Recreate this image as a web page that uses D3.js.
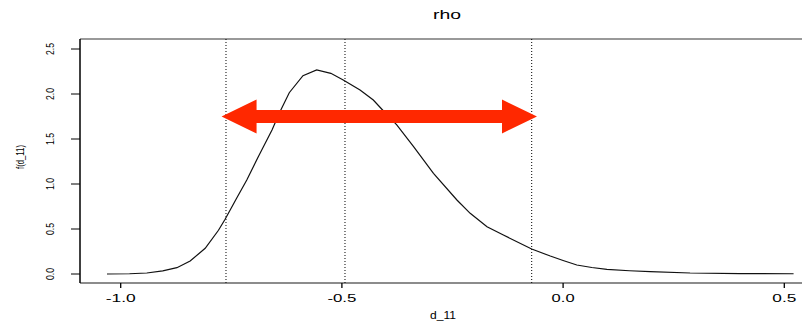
<!DOCTYPE html>
<html><head><meta charset="utf-8">
<script src="https://cdn.jsdelivr.net/npm/d3@7"></script>
<style>body{margin:0;background:#fff}svg{display:block}text{font-family:"Liberation Sans",Arial,sans-serif;fill:#000}</style>
</head><body><svg id="c" width="802" height="321"></svg>
<script>
const densityX = [-1.031,-0.980,-0.941,-0.905,-0.873,-0.843,-0.809,-0.779,-0.764,-0.738,-0.715,-0.689,-0.658,-0.640,-0.619,-0.588,-0.557,-0.525,-0.497,-0.459,-0.429,-0.406,-0.376,-0.338,-0.293,-0.240,-0.210,-0.172,-0.135,-0.071,-0.029,0.000,0.031,0.065,0.099,0.150,0.197,0.287,0.400,0.521];
const densityY = [0.000,0.003,0.011,0.035,0.070,0.144,0.286,0.486,0.608,0.841,1.044,1.303,1.600,1.803,2.014,2.203,2.267,2.230,2.156,2.044,1.933,1.811,1.656,1.415,1.119,0.822,0.674,0.526,0.433,0.278,0.200,0.150,0.100,0.072,0.052,0.036,0.026,0.011,0.005,0.003];
const vlines = [-0.762,-0.493,-0.071];
const xTicks = [-1.0,-0.5,0.0,0.5];
const xTickLabels = ["-1.0","-0.5","0.0","0.5"];
const yTicks = [0.0,0.5,1.0,1.5,2.0,2.5];
const yTickLabels = ["0.0","0.5","1.0","1.5","2.0","2.5"];
const arrowFrom = -0.772, arrowTo = -0.059, arrowY = 1.75;
const title = "rho", xLabel = "d_11", yLabel = "f(d_11)";

const svg = d3.select("#c");
const x = d3.scaleLinear().domain([-1, 0.5]).range([120.7, 784.3]);
const y = d3.scaleLinear().domain([0, 2.5]).range([274, 49]);
const L = 80, T = 39, B = 283, R = 815;

// box
svg.append("line").attr("x1",L).attr("x2",R).attr("y1",T).attr("y2",T).attr("stroke","#777").attr("stroke-width",1.3);
svg.append("line").attr("x1",L).attr("x2",R).attr("y1",B).attr("y2",B).attr("stroke","#666").attr("stroke-width",1.5);
svg.append("line").attr("x1",L).attr("x2",L).attr("y1",T).attr("y2",B).attr("stroke","#000").attr("stroke-width",1.5);

// dotted verticals
svg.selectAll("line.v").data(vlines).enter().append("line")
  .attr("x1",d=>x(d)).attr("x2",d=>x(d)).attr("y1",T).attr("y2",B)
  .attr("stroke","#000").attr("stroke-width",1).attr("stroke-dasharray","1,2");

// curve
const pts = densityX.map((d,i)=>[d,densityY[i]]);
svg.append("path").datum(pts)
  .attr("d", d3.line().x(d=>x(d[0])).y(d=>y(d[1])))
  .attr("fill","none").attr("stroke","#111").attr("stroke-width",1.2);

// arrow
const ax1 = x(arrowFrom), ax2 = x(arrowTo), ay = y(arrowY);
const hl = 35, hh = 17, sh = 6.5;
const poly = [[ax1,ay],[ax1+hl,ay-hh],[ax1+hl,ay-sh],[ax2-hl,ay-sh],[ax2-hl,ay-hh],[ax2,ay],[ax2-hl,ay+hh],[ax2-hl,ay+sh],[ax1+hl,ay+sh],[ax1+hl,ay+hh]];
svg.append("polygon").attr("points", poly.map(p=>p.join(",")).join(" ")).attr("fill","#ff2800");

// x axis ticks
const gx = svg.append("g");
gx.selectAll("line").data(xTicks).enter().append("line")
  .attr("x1",d=>x(d)).attr("x2",d=>x(d)).attr("y1",B).attr("y2",B+5).attr("stroke","#000").attr("stroke-width",1.3);
const xw = {"-1.0":30,"-0.5":29,"0.0":23,"0.5":24};
gx.selectAll("text").data(xTicks).enter().append("text")
  .attr("x",d=>x(d)).attr("y",302).attr("text-anchor","middle").attr("font-size",10.5)
  .attr("textLength",(d,i)=>xw[xTickLabels[i]]).attr("lengthAdjust","spacingAndGlyphs")
  .text((d,i)=>xTickLabels[i]);

// y axis ticks
const gy = svg.append("g");
gy.selectAll("line").data(yTicks).enter().append("line")
  .attr("x1",L-9).attr("x2",L).attr("y1",d=>y(d)).attr("y2",d=>y(d)).attr("stroke","#000").attr("stroke-width",1);
gy.selectAll("text").data(yTicks).enter().append("text")
  .attr("transform",d=>`translate(54,${y(d)}) rotate(-90)`).attr("text-anchor","middle").attr("font-size",10)
  .attr("textLength",12).attr("lengthAdjust","spacingAndGlyphs")
  .text((d,i)=>yTickLabels[i]);

// labels
svg.append("text").attr("x",447).attr("y",19).attr("text-anchor","middle").attr("font-size",12.5)
  .attr("textLength",28).attr("lengthAdjust","spacingAndGlyphs").text(title);
svg.append("text").attr("x",443).attr("y",319).attr("text-anchor","middle").attr("font-size",10.5)
  .attr("textLength",26).attr("lengthAdjust","spacingAndGlyphs").text(xLabel);
svg.append("text").attr("transform","translate(24,157) rotate(-90)").attr("text-anchor","middle").attr("font-size",11)
  .attr("textLength",24).attr("lengthAdjust","spacingAndGlyphs").text(yLabel);
</script></body></html>
